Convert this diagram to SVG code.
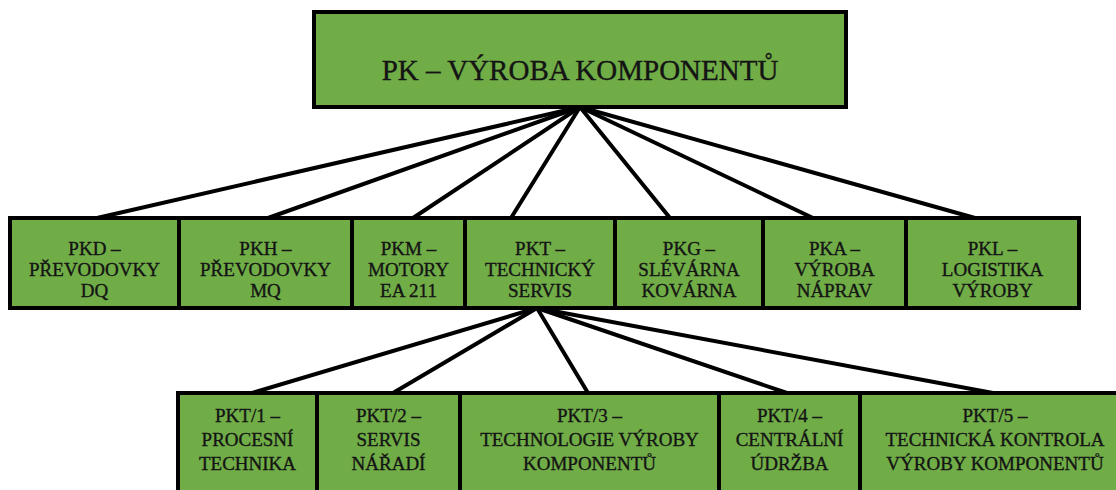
<svg xmlns="http://www.w3.org/2000/svg" width="1116" height="490" viewBox="0 0 1116 490">
<defs>
<style>
.box{fill:#70AD47;stroke:#000;stroke-width:4}
.lnk{stroke:#000;stroke-width:4;fill:none;stroke-linecap:round}
.tx{font-family:'Liberation Serif','DejaVu Serif',serif;fill:#141414;stroke:#141414;stroke-width:0.35;text-anchor:middle}
.t1{font-size:29px}
.t2{font-size:19px}
</style>
</defs>
<rect width="1116" height="490" fill="#fff"/>
<g id="connectors">
<line class="lnk" x1="580" y1="107" x2="97" y2="218"/>
<line class="lnk" x1="580" y1="107" x2="268" y2="218"/>
<line class="lnk" x1="580" y1="107" x2="413" y2="218"/>
<line class="lnk" x1="580" y1="107" x2="511" y2="218"/>
<line class="lnk" x1="580" y1="107" x2="670" y2="218"/>
<line class="lnk" x1="580" y1="107" x2="813" y2="218"/>
<line class="lnk" x1="580" y1="107" x2="975" y2="218"/>
<line class="lnk" x1="537" y1="308" x2="252" y2="393"/>
<line class="lnk" x1="537" y1="308" x2="393" y2="393"/>
<line class="lnk" x1="537" y1="308" x2="588" y2="393"/>
<line class="lnk" x1="537" y1="308" x2="787" y2="393"/>
<line class="lnk" x1="537" y1="308" x2="993" y2="393"/>
</g>
<g id="pk">
<rect class="box" x="314" y="12" width="532" height="95"/>
<text class="tx t1" x="580" y="80" font-family="Liberation Serif, serif">PK – VÝROBA KOMPONENTŮ</text>
</g>
<g id="pkd" class="tx t2" font-family="Liberation Serif, serif">
<rect class="box" x="10" y="218" width="169" height="90"/>
<text x="94.5" y="255">PKD –</text>
<text x="94.5" y="276">PŘEVODOVKY</text>
<text x="94.5" y="297">DQ</text>
</g>
<g id="pkh" class="tx t2" font-family="Liberation Serif, serif">
<rect class="box" x="179" y="218" width="173" height="90"/>
<text x="265.5" y="255">PKH –</text>
<text x="265.5" y="276">PŘEVODOVKY</text>
<text x="265.5" y="297">MQ</text>
</g>
<g id="pkm" class="tx t2" font-family="Liberation Serif, serif">
<rect class="box" x="352" y="218" width="113" height="90"/>
<text x="408.5" y="255">PKM –</text>
<text x="408.5" y="276">MOTORY</text>
<text x="408.5" y="297">EA 211</text>
</g>
<g id="pkt" class="tx t2" font-family="Liberation Serif, serif">
<rect class="box" x="465" y="218" width="150" height="90"/>
<text x="540" y="255">PKT –</text>
<text x="540" y="276">TECHNICKÝ</text>
<text x="540" y="297">SERVIS</text>
</g>
<g id="pkg" class="tx t2" font-family="Liberation Serif, serif">
<rect class="box" x="615" y="218" width="148" height="90"/>
<text x="689" y="255">PKG –</text>
<text x="689" y="276">SLÉVÁRNA</text>
<text x="689" y="297">KOVÁRNA</text>
</g>
<g id="pka" class="tx t2" font-family="Liberation Serif, serif">
<rect class="box" x="763" y="218" width="143" height="90"/>
<text x="834.5" y="255">PKA –</text>
<text x="834.5" y="276">VÝROBA</text>
<text x="834.5" y="297">NÁPRAV</text>
</g>
<g id="pkl" class="tx t2" font-family="Liberation Serif, serif">
<rect class="box" x="906" y="218" width="173" height="90"/>
<text x="992.5" y="255">PKL –</text>
<text x="992.5" y="276">LOGISTIKA</text>
<text x="992.5" y="297">VÝROBY</text>
</g>
<g id="pkt1" class="tx t2" font-family="Liberation Serif, serif">
<rect class="box" x="178" y="393" width="139" height="110"/>
<text x="247.5" y="422">PKT/1 –</text>
<text x="247.5" y="446">PROCESNÍ</text>
<text x="247.5" y="470">TECHNIKA</text>
</g>
<g id="pkt2" class="tx t2" font-family="Liberation Serif, serif">
<rect class="box" x="317" y="393" width="143" height="110"/>
<text x="388.5" y="422">PKT/2 –</text>
<text x="388.5" y="446">SERVIS</text>
<text x="388.5" y="470">NÁŘADÍ</text>
</g>
<g id="pkt3" class="tx t2" font-family="Liberation Serif, serif">
<rect class="box" x="460" y="393" width="259" height="110"/>
<text x="589.5" y="422">PKT/3 –</text>
<text x="589.5" y="446">TECHNOLOGIE VÝROBY</text>
<text x="589.5" y="470">KOMPONENTŮ</text>
</g>
<g id="pkt4" class="tx t2" font-family="Liberation Serif, serif">
<rect class="box" x="719" y="393" width="141" height="110"/>
<text x="789.5" y="422">PKT/4 –</text>
<text x="789.5" y="446">CENTRÁLNÍ</text>
<text x="789.5" y="470">ÚDRŽBA</text>
</g>
<g id="pkt5" class="tx t2" font-family="Liberation Serif, serif">
<rect class="box" x="860" y="393" width="270" height="110"/>
<text x="995" y="422">PKT/5 –</text>
<text x="995" y="446">TECHNICKÁ KONTROLA</text>
<text x="995" y="470">VÝROBY KOMPONENTŮ</text>
</g>
</svg>
